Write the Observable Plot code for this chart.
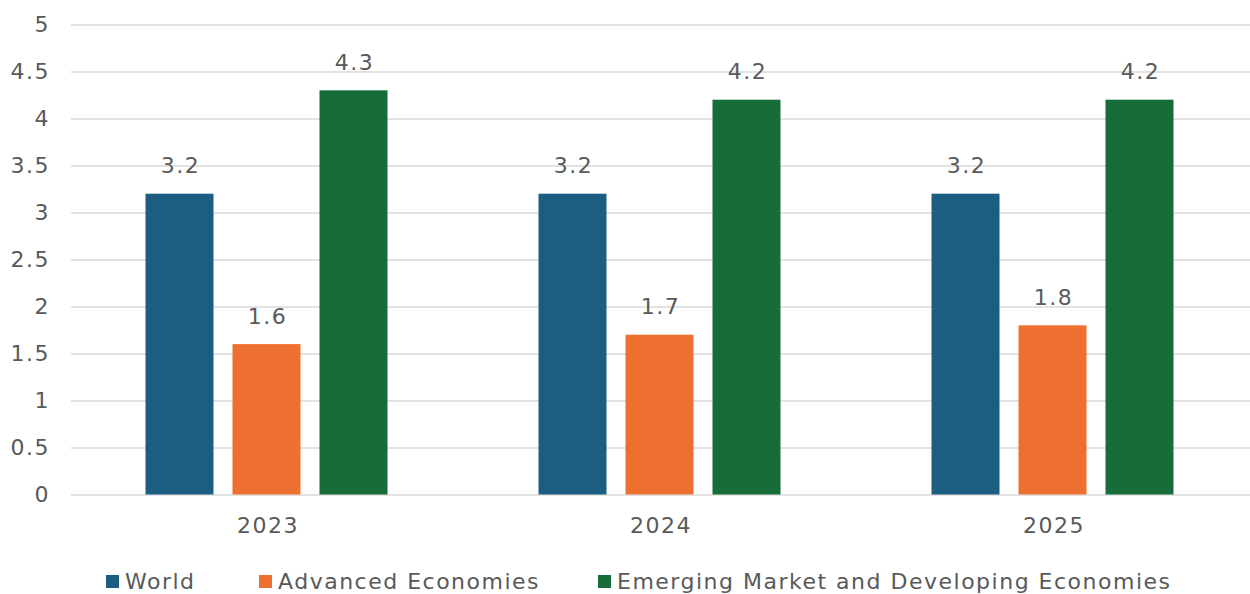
<!DOCTYPE html>
<html>
<head>
<meta charset="utf-8">
<script src="https://cdn.jsdelivr.net/npm/d3@7"></script>
<script src="https://cdn.jsdelivr.net/npm/@observablehq/plot@0.6"></script>
<style>
  body { margin: 0; background: #fff; font-family: "DejaVu Sans", sans-serif; overflow: hidden; }
  #chart svg { display: block; }
  #legend { position: relative; height: 49px; color: #595959; font-size: 22px; letter-spacing: 1.5px; }
  #legend .item { position: absolute; top: 24px; display: flex; align-items: center; height: 24px; white-space: nowrap; }
  #legend .sw { width: 13px; height: 13px; margin-right: 6px; }
</style>
</head>
<body>
<div id="chart"></div>
<div id="legend"></div>
<script>
const years = ["2023", "2024", "2025"];
const series = ["World", "Advanced Economies", "Emerging Market and Developing Economies"];
const world = [3.2, 3.2, 3.2];
const advanced = [1.6, 1.7, 1.8];
const emerging = [4.3, 4.2, 4.2];
const colors = ["#1B5E82", "#ED7031", "#176D3A"];
const yTicks = [0, 0.5, 1, 1.5, 2, 2.5, 3, 3.5, 4, 4.5, 5];
const legendLeft = [106, 259, 598];

const valuesBySeries = [world, advanced, emerging];
const data = [];
years.forEach((yr, i) => {
  series.forEach((s, j) => data.push({ year: yr, series: s, value: valuesBySeries[j][i] }));
});

const chart = Plot.plot({
  width: 1250,
  height: 545,
  marginLeft: 70,
  marginRight: 0,
  marginTop: 24.5,
  marginBottom: 50.5,
  style: { fontFamily: "'DejaVu Sans', sans-serif", fontSize: "22px", color: "#595959", background: "#fff", letterSpacing: "1.5px" },
  fx: { domain: years, padding: 0, label: null, axis: null },
  x: { domain: series, paddingInner: 0.223, paddingOuter: 0.85, axis: null },
  y: { domain: [0, 5], label: null },
  color: { domain: series, range: colors },
  marks: [
    Plot.gridY(yTicks, { stroke: "#d9d9d9", strokeOpacity: 1, strokeWidth: 1.5 }),
    Plot.barY(data, { fx: "year", x: "series", y: "value", fill: "series", dx: -1.5 }),
    Plot.text(data, { fx: "year", x: "series", y: "value", text: d => d.value.toFixed(1), dy: -28, dx: -1, fontSize: 22, fill: "#595959" }),
    Plot.axisY(yTicks, { tickSize: 0, tickPadding: 21.5, fontSize: 22, tickFormat: d => String(d), label: null }),
    Plot.axisFx({ anchor: "bottom", tickSize: 0, tickPadding: 22, fontSize: 22, label: null })
  ]
});
document.getElementById("chart").appendChild(chart);

const legend = document.getElementById("legend");
series.forEach((s, i) => {
  const item = document.createElement("div");
  item.className = "item";
  item.style.left = legendLeft[i] + "px";
  const sw = document.createElement("div");
  sw.className = "sw";
  sw.style.background = colors[i];
  const label = document.createElement("span");
  label.textContent = s;
  item.appendChild(sw);
  item.appendChild(label);
  legend.appendChild(item);
});
</script>
</body>
</html>
